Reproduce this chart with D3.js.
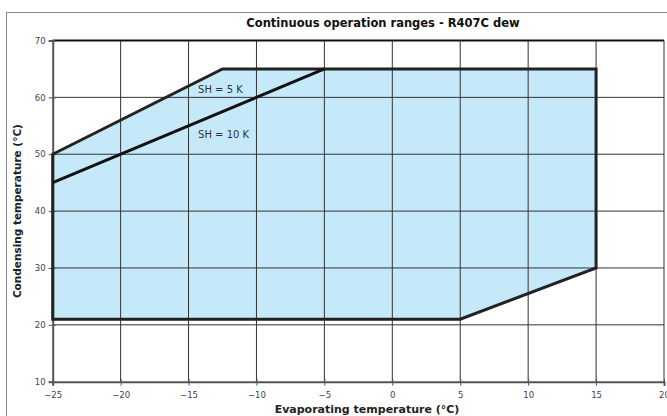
<!DOCTYPE html>
<html><head><meta charset="utf-8">
<script src="https://cdn.jsdelivr.net/npm/d3@7"></script>
<style>body{margin:0;background:#fff}svg{display:block}</style>
</head><body>
<svg id="c" width="667" height="416"></svg>
<script>
const xTicks = [-25,-20,-15,-10,-5,0,5,10,15,20];
const yTicks = [10,20,30,40,50,60,70];
const envelope = [[-25,50],[-12.5,65],[15,65],[15,30],[5,21],[-25,21]];
const sh10Line = [[-25,45],[-5,65]];
const labels = [{text:"SH = 5 K", x:-14.3, y:60.8},{text:"SH = 10 K", x:-14.3, y:52.9}];

const svg = d3.select("#c");
const m = {l:52.7, r:664, t:40.5, b:381.7};
const x = d3.scaleLinear().domain([-25,20]).range([m.l,m.r]);
const y = d3.scaleLinear().domain([10,70]).range([m.b,m.t]);
const FONT = "DejaVu Sans, Verdana, sans-serif";

// outer frame
svg.append("rect").attr("x",6.5).attr("y",12.5).attr("width",700).attr("height",500)
  .attr("fill","none").attr("stroke","#888").attr("stroke-width",1);

// fill
const line = d3.line().x(d=>x(d[0])).y(d=>y(d[1]));
svg.append("path").attr("d",line(envelope)+"Z").attr("fill","#c6e9f9").attr("stroke","none");

// grid
const g = svg.append("g");
g.selectAll("line.v").data(xTicks.slice(1)).join("line")
  .attr("x1",d=>x(d)).attr("x2",d=>x(d)).attr("y1",m.t).attr("y2",m.b)
  .attr("stroke","#333").attr("stroke-width",1);
g.selectAll("line.h").data(yTicks.slice(1)).join("line")
  .attr("x1",m.l).attr("x2",m.r).attr("y1",d=>y(d)).attr("y2",d=>y(d))
  .attr("stroke","#333").attr("stroke-width",1);
svg.append("line").attr("x1",m.l).attr("x2",m.r).attr("y1",y(70)).attr("y2",y(70)).attr("stroke","#111").attr("stroke-width",2);

// axes
const xa = svg.append("g").attr("transform",`translate(0,${m.b})`)
  .call(d3.axisBottom(x).tickValues(xTicks).tickSize(4).tickPadding(6));
const ya = svg.append("g").attr("transform",`translate(${m.l},0)`)
  .call(d3.axisLeft(y).tickValues(yTicks).tickSize(4).tickPadding(3));
[xa,ya].forEach(a=>{
  a.select(".domain").attr("stroke","#555").attr("stroke-width",2);
  a.selectAll(".tick line").attr("stroke","#555").attr("stroke-width",1);
  a.selectAll(".tick text").attr("fill","#444").style("font-family",FONT).style("font-size","8.5px");
});
xa.selectAll(".tick line").attr("y1",-3).attr("y2",4);
ya.selectAll(".tick line").attr("x1",3).attr("x2",-4);

// envelope outline and SH10 line
svg.append("path").attr("d",line(envelope)+"Z").attr("fill","none").attr("stroke","#222")
  .attr("stroke-width",3).attr("stroke-linejoin","miter");
svg.append("path").attr("d",line(sh10Line)).attr("fill","none").attr("stroke","#111").attr("stroke-width",3);

// labels
svg.selectAll("text.lab").data(labels).join("text").attr("class","lab")
  .attr("x",d=>x(d.x)).attr("y",d=>y(d.y)).text(d=>d.text)
  .attr("fill","#333").style("font-family",FONT).style("font-size","10px");

// title
svg.append("text").attr("x",383).attr("y",27).attr("text-anchor","middle")
  .text("Continuous operation ranges - R407C dew")
  .style("font-family",FONT).style("font-size","11.5px").style("font-weight","bold").attr("fill","#111");
svg.append("text").attr("x",367).attr("y",413).attr("text-anchor","middle")
  .text("Evaporating temperature (°C)")
  .style("font-family",FONT).style("font-size","11px").style("font-weight","bold").attr("fill","#222");
svg.append("text").attr("transform",`translate(21,${(m.t+m.b)/2}) rotate(-90)`).attr("text-anchor","middle")
  .text("Condensing temperature (°C)")
  .style("font-family",FONT).style("font-size","10.5px").style("font-weight","bold").attr("fill","#222");
</script>
</body></html>
